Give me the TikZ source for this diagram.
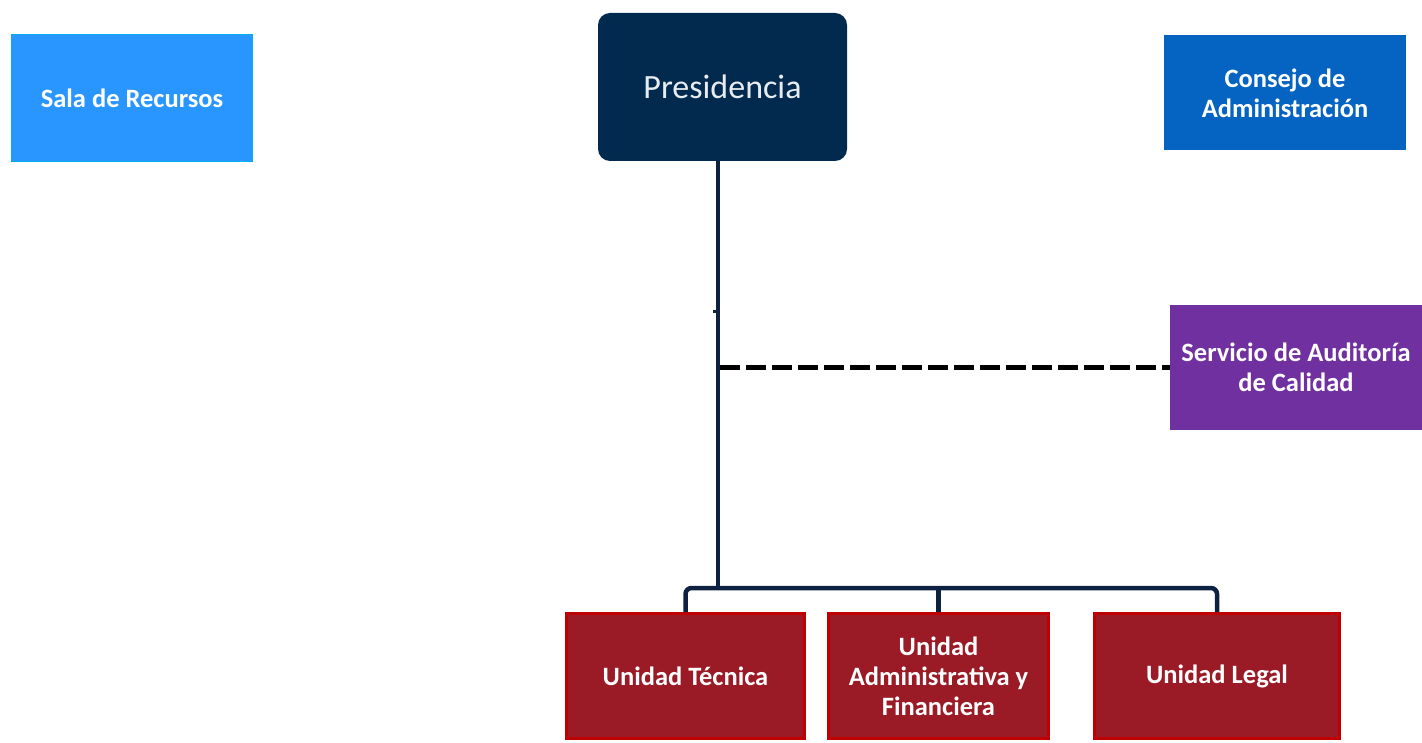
\documentclass[tikz,border=0pt]{standalone}
\usepackage{fontspec}
\setmainfont{Carlito}
\definecolor{salablue}{RGB}{41,150,255}
\definecolor{salaedge}{RGB}{0,176,240}
\definecolor{consejoblue}{RGB}{5,99,193}
\definecolor{presnavy}{RGB}{1,42,78}
\definecolor{servpurple}{RGB}{112,48,160}
\definecolor{unidred}{RGB}{154,26,38}
\definecolor{unidedge}{RGB}{192,0,0}
\definecolor{linenavy}{RGB}{13,34,64}
\definecolor{prestext}{RGB}{232,236,240}
\begin{document}
\begin{tikzpicture}[x=1pt,y=-1pt,
  boxbase/.style={rectangle, inner sep=0pt, align=center, text=white,
    font=\fontsize{26.5}{30}\selectfont\bfseries},
  unitbox/.style={boxbase, fill=unidred, draw=unidedge, line width=3pt,
    minimum height=125pt},
  conn/.style={draw=linenavy, line width=4.5pt},
  auditline/.style={draw=black, line width=5pt, dash pattern=on 20pt off 6pt}]
\useasboundingbox (0,0) rectangle (1422,743);
% top row
\node[boxbase, fill=salablue, draw=salaedge, line width=1pt,
  minimum width=241pt, minimum height=127pt] (sala) at (132,98) {Sala de Recursos};
\node[rectangle, rounded corners=12pt, fill=presnavy, text=prestext,
  minimum width=249pt, minimum height=148pt,
  font=\fontsize{34}{40}\selectfont] (pres) at (722.5,87) {Presidencia};
\node[boxbase, fill=consejoblue, minimum width=242pt, minimum height=115pt]
  (consejo) at (1285,93) {Consejo de\\Administración};
% audit
\node[boxbase, fill=servpurple, minimum width=252pt, minimum height=125pt]
  (serv) at (1296,367.5) {Servicio de Auditoría\\de Calidad};
% units
\node[unitbox, minimum width=238pt] (tec) at (685.5,676) {Unidad Técnica};
\node[unitbox, minimum width=220pt] (uaf) at (938.5,676) {Unidad\\Administrativa y\\Financiera};
\node[unitbox, minimum width=245pt] (legal) at (1217,676) {Unidad Legal};
% connectors
\coordinate (bus) at (718,588);
\draw[conn] (pres.south -| bus) -- (bus);
\draw[conn, rounded corners=6pt] (tec.north) |- (bus) -| (legal.north);
\draw[conn] (uaf.north) -- (uaf.north |- bus);
\coordinate (tick) at (713,312);
\draw[conn, line width=3pt] (tick) -- (tick -| bus);
\draw[auditline] ([xshift=2pt]bus |- serv.west) -- (serv.west);
\end{tikzpicture}
\end{document}
